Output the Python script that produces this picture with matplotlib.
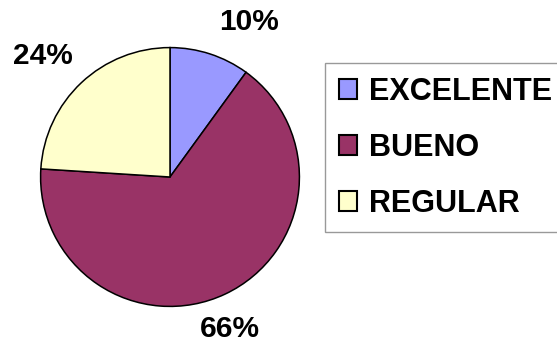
import matplotlib.pyplot as plt

categorias = ["EXCELENTE", "BUENO", "REGULAR"]
valores = [10, 66, 24]
colores = ["#9999FF", "#993366", "#FFFFCC"]
# small nudges of the percentage labels (axes data units)
ajustes = [(0.21, -0.04), (-0.09, 0.0), (-0.09, -0.01)]

plt.rcParams['font.family'] = ['Liberation Sans', 'DejaVu Sans']

fig = plt.figure(figsize=(5.57, 3.48), dpi=100)
# pie centred at (170, 177) px, radius 132 px
ax = fig.add_axes([38 / 557, (348 - 177 - 132) / 348, 264 / 557, 264 / 348])

wedges, textos, pcts = ax.pie(
    valores, colors=colores, startangle=90, counterclock=False,
    autopct='%1.0f%%', pctdistance=1.3, radius=1,
    wedgeprops=dict(edgecolor='black', linewidth=1.1),
    textprops=dict(fontsize=21.5, fontweight='bold', color='black'))
for t, (dx, dy) in zip(pcts, ajustes):
    x, y = t.get_position()
    t.set_position((x + dx, y + dy))
ax.set_xlim(-1.02, 1.02)
ax.set_ylim(-1.02, 1.02)
ax.set_aspect('equal')

leg = fig.legend(wedges, categorias, loc='upper left',
                 bbox_to_anchor=(325 / 557, 1 - 63 / 348),
                 prop=dict(size=22, weight='bold'),
                 frameon=True, fancybox=False, edgecolor='#808080',
                 handlelength=0.6, handleheight=0.6, handletextpad=0.4,
                 labelspacing=0.85, borderpad=0.45, borderaxespad=0)
leg.get_frame().set_linewidth(1.0)
for h in leg.legend_handles:
    h.set_edgecolor('black')
    h.set_linewidth(1.5)

fig.savefig('out.png', dpi=100)
